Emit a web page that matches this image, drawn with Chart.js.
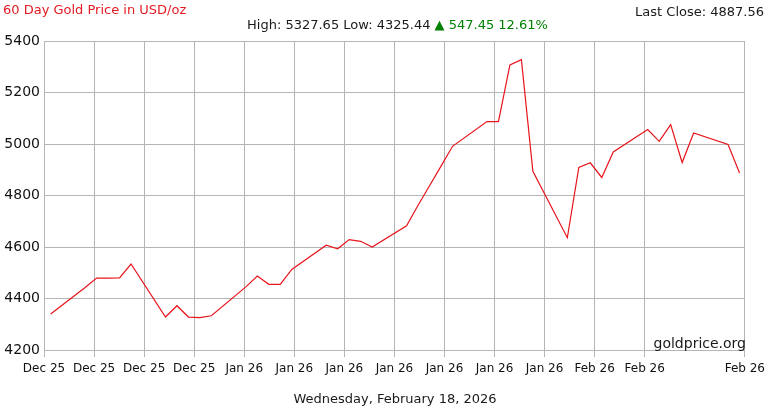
<!DOCTYPE html>
<html>
<head>
<meta charset="utf-8">
<title>60 Day Gold Price in USD/oz</title>
<script src="https://cdn.jsdelivr.net/npm/chart.js@4.4.1/dist/chart.umd.min.js"></script>
<style>
  html, body { margin: 0; padding: 0; background: #fff; }
  #wrap { position: relative; width: 770px; height: 410px; font-family: "DejaVu Sans", Verdana, sans-serif; color: #1a1a1a; }
  #wrap .txt { position: absolute; white-space: nowrap; }
  #title { left: 3px; top: 3px; font-size: 13px; line-height: 13px; color: #e31b23; }
  #stats { left: 247px; top: 18px; font-size: 13px; line-height: 13px; }
  #stats .up { color: #008000; }
  #last { right: 6px; top: 5px; font-size: 13px; line-height: 13px; }
  #brand { right: 24px; top: 336px; font-size: 14px; line-height: 14px; }
  #date { left: 0; width: 790px; text-align: center; top: 392px; font-size: 13px; line-height: 13px; }
  canvas { position: absolute; left: 0; top: 0; }
</style>
</head>
<body>
<div id="wrap">
  <canvas id="gold-chart" width="770" height="410"></canvas>
  <div class="txt" id="title">60 Day Gold Price in USD/oz</div>
  <div class="txt" id="stats">High: 5327.65 Low: 4325.44 <span class="up">&#9650; 547.45 12.61%</span></div>
  <div class="txt" id="last">Last Close: 4887.56</div>
  <div class="txt" id="brand">goldprice.org</div>
  <div class="txt" id="date">Wednesday, February 18, 2026</div>
</div>
<script>
// day number counted from Dec 19, 2025 (trading days only)
const days = [0, 3, 4, 5, 6, 7, 10, 11, 12, 13, 14, 17, 18, 19, 20, 21, 24, 25, 26, 27, 28,
  31, 32, 33, 34, 35, 38, 39, 40, 41, 42, 45, 46, 47, 48, 49, 52, 53, 54, 55, 56, 59, 60];

// gold price, USD/oz
const prices = [4340.11, 4443, 4479, 4479, 4480, 4534, 4328, 4372, 4328, 4325.44, 4333,
  4445, 4487, 4455, 4455, 4513, 4607, 4593, 4629, 4622, 4600,
  4682, 4762, 4838, 4914, 4991, 5087, 5087, 5307, 5327.65, 4894,
  4636, 4909, 4927, 4870, 4969, 5056, 5010, 5075, 4928, 5043, 4998, 4887.56];

const xTickLabels = ["Dec 25", "Dec 25", "Dec 25", "Dec 25", "Jan 26", "Jan 26", "Jan 26",
  "Jan 26", "Jan 26", "Jan 26", "Jan 26", "Feb 26", "Feb 26", "Feb 26"];

const yMin = 4200;
const yMax = 5400;
const yStep = 200;

// axis spans a bit more than the 60 days of data
const xMin = -0.58;
const xMax = 60.46;

const gridColor = "#b5b5b5";

const canvas = document.getElementById("gold-chart");

const goldChart = new Chart(canvas, {
  type: "line",
  data: {
    datasets: [
      {
        data: days.map((d, i) => ({ x: d, y: prices[i] })),
        borderColor: "#e8141c",
        borderWidth: 1.2,
        pointRadius: 0,
        tension: 0,
        fill: false,
      },
    ],
  },
  options: {
    responsive: false,
    animation: false,
    layout: { padding: { top: 41, right: 24, left: 0, bottom: 0 } },
    plugins: {
      legend: { display: false },
      tooltip: { enabled: false },
    },
    scales: {
      x: {
        type: "linear",
        min: xMin,
        max: xMax,
        afterBuildTicks: (scale) => {
          // 14 equal slots, the last inner tick is left out
          const step = (xMax - xMin) / 14;
          const ticks = [];
          for (let k = 0; k < 13; k++) ticks.push({ value: xMin + k * step });
          ticks.push({ value: xMax });
          scale.ticks = ticks;
        },
        afterFit: (scale) => {
          scale.height = 60;
        },
        ticks: {
          autoSkip: false,
          maxRotation: 0,
          padding: 5,
          color: "#111",
          font: { family: "DejaVu Sans", size: 12 },
          callback: (value, index) => xTickLabels[index],
        },
        grid: { color: gridColor, tickLength: 7 },
        border: { color: gridColor },
      },
      y: {
        min: yMin,
        max: yMax,
        afterFit: (scale) => {
          scale.width = 44;
        },
        ticks: {
          stepSize: yStep,
          padding: 4,
          color: "#111",
          font: { family: "DejaVu Sans", size: 14 },
          callback: (value) => String(value),
        },
        grid: { color: gridColor, drawTicks: false },
        border: { color: gridColor },
      },
    },
  },
});
</script>
</body>
</html>
